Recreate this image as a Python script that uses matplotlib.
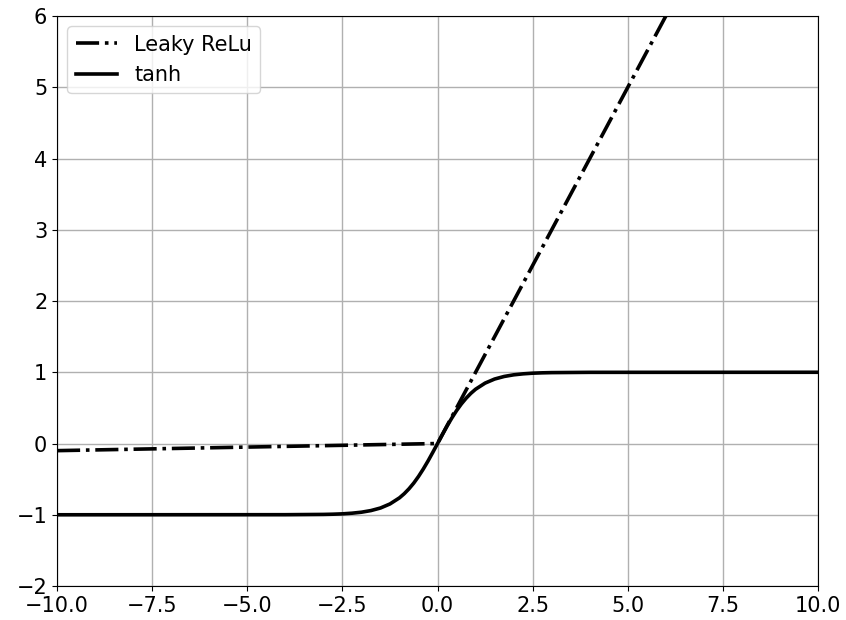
import matplotlib
matplotlib.use('Agg')
import matplotlib.pyplot as plt

# Leaky ReLU (straight pieces, clipped by the y-limit)
relu_x = [-10.0, 0.0, 6.0]
relu_y = [-0.1, 0.0, 6.0]

# tanh curve
tanh_x = [-10.0, -4.0, -3.0, -2.75, -2.5, -2.25, -2.0, -1.75, -1.5, -1.25, -1.0,
          -0.875, -0.75, -0.625, -0.5, -0.375, -0.25, -0.125, 0.0,
          0.125, 0.25, 0.375, 0.5, 0.625, 0.75, 0.875, 1.0,
          1.25, 1.5, 1.75, 2.0, 2.25, 2.5, 2.75, 3.0, 4.0, 10.0]
tanh_y = [-1.0, -0.999, -0.995, -0.992, -0.987, -0.978, -0.964, -0.941, -0.905, -0.848, -0.762,
          -0.704, -0.635, -0.555, -0.462, -0.358, -0.245, -0.124, 0.0,
          0.124, 0.245, 0.358, 0.462, 0.555, 0.635, 0.704, 0.762,
          0.848, 0.905, 0.941, 0.964, 0.978, 0.987, 0.992, 0.995, 0.999, 1.0]

x_ticks = [-10.0, -7.5, -5.0, -2.5, 0.0, 2.5, 5.0, 7.5, 10.0]
y_ticks = [-2, -1, 0, 1, 2, 3, 4, 5, 6]


def main():
    plt.rcParams['font.size'] = 15
    fig = plt.figure(figsize=(8.46, 6.2), dpi=100)
    ax = fig.add_axes([0.0674, 0.0548, 0.8996, 0.9194])

    ax.plot(relu_x, relu_y, color='k', linestyle='-.', linewidth=2.6, label='Leaky ReLu')
    ax.plot(tanh_x, tanh_y, color='k', linestyle='-', linewidth=2.6, label='tanh')

    ax.set_xlim(-10, 10)
    ax.set_ylim(-2, 6)
    ax.set_xticks(x_ticks)
    ax.set_yticks(y_ticks)
    ax.grid(color='#b0b0b0', linewidth=1.0)
    ax.legend(loc='upper left')

    fig.savefig('out.png', dpi=100)


if __name__ == '__main__':
    main()
